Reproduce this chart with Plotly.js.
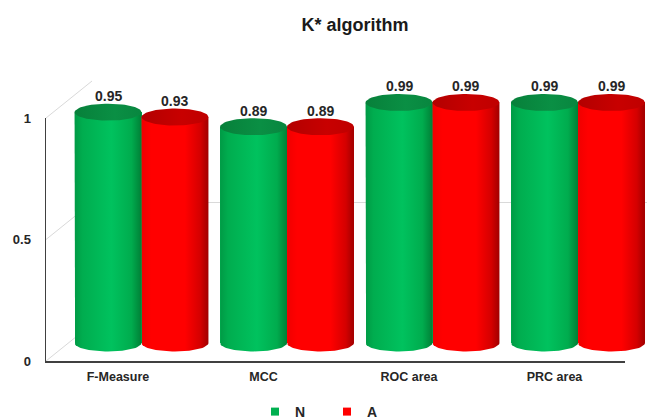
<!DOCTYPE html>
<html>
<head>
<meta charset="utf-8">
<script src="https://cdn.plot.ly/plotly-3.0.1.min.js"></script>
<style>html,body{margin:0;padding:0;background:#fff;}#chart{width:647px;height:420px;}</style>
</head>
<body>
<div id="chart"></div>
<script>
// ---- data ----
const categories = ['F-Measure', 'MCC', 'ROC area', 'PRC area'];
const seriesNames = ['N', 'A'];
const valuesN = [0.95, 0.89, 0.99, 0.99];
const valuesA = [0.93, 0.89, 0.99, 0.99];
const yTickVals = [0, 0.5, 1];
const yTickText = ['0', '0.5', '1'];

// ---- styling ----
const W = 647, H = 420;
const FONT = 'Liberation Sans, Arial, sans-serif';
const TXT = '#262626';
const barW = 0.46;          // width of one cylinder in category units
const ry = 0.035;           // ellipse half-height in value units
const baseColors = ['#00b050', '#ff0000'];
const bodyScales = [
  [[0, '#009a45'], [0.12, '#00ad4f'], [0.55, '#00c25e'], [0.85, '#00ac4e'], [1, '#007f36']],
  [[0, '#f00000'], [0.15, '#ff0000'], [0.65, '#ff0000'], [0.88, '#d40000'], [1, '#a00000']]
];
const topScales = [
  [[0, '#07803a'], [0.6, '#0a8f44'], [1, '#08863f']],
  [[0, '#b30000'], [0.6, '#c80000'], [1, '#bf0000']]
];

const px = v => v / W, py = v => 1 - v / H;

const seriesVals = [valuesN, valuesA];
const idx = categories.map((c, i) => i);
const traces = [];
const annotations = [];

// anchor traces so the wall grid and the front axes are drawn
traces.push({type: 'scatter', mode: 'none', x: [0.5], y: [0.5], xaxis: 'x', yaxis: 'y',
             showlegend: false, hoverinfo: 'skip'});
traces.push({type: 'scatter', mode: 'none', x: [0], y: [0], xaxis: 'x2', yaxis: 'y2',
             showlegend: false, hoverinfo: 'skip'});

// plain bars (data carrier, hidden under the cylinder shading)
seriesVals.forEach((vals, s) => {
  traces.push({
    type: 'bar', x: idx, y: vals, name: seriesNames[s],
    xaxis: 'x3', yaxis: 'y3',
    width: barW, offset: s === 0 ? -barW : 0,
    marker: {color: baseColors[s]}, showlegend: false, hoverinfo: 'skip'
  });
});

// cylinders built from the same values
const NSEG = 36;
seriesVals.forEach((vals, s) => {
  vals.forEach((v, i) => {
    const hw = barW / 2;
    const xc = i + (s === 0 ? -hw : hw);
    const bx = [xc - hw], by = [v];
    for (let k = 0; k <= NSEG; k++) {
      const t = Math.PI * k / NSEG;
      bx.push(xc - hw * Math.cos(t)); by.push(-ry * Math.sin(t));
    }
    bx.push(xc + hw); by.push(v);
    bx.push(xc - hw); by.push(v);
    traces.push({
      type: 'scatter', mode: 'lines', x: bx, y: by, xaxis: 'x3', yaxis: 'y3',
      fill: 'toself', line: {width: 0, color: baseColors[s]},
      fillgradient: {type: 'horizontal', colorscale: bodyScales[s]},
      showlegend: false, hoverinfo: 'skip'
    });
    const tx = [], ty = [];
    for (let k = 0; k <= 2 * NSEG; k++) {
      const t = Math.PI * k / NSEG;
      tx.push(xc + hw * Math.cos(t)); ty.push(v + ry * Math.sin(t));
    }
    traces.push({
      type: 'scatter', mode: 'lines', x: tx, y: ty, xaxis: 'x3', yaxis: 'y3',
      fill: 'toself', line: {width: 0, color: baseColors[s]},
      fillgradient: {type: 'horizontal', colorscale: topScales[s]},
      showlegend: false, hoverinfo: 'skip'
    });
    annotations.push({
      x: xc, y: v, xref: 'x3', yref: 'y3', yshift: 16,
      text: v.toFixed(2), showarrow: false,
      font: {family: FONT, size: 14, color: TXT, weight: 'bold'}
    });
  });
});

// legend entries
seriesNames.forEach((n, s) => {
  traces.push({
    type: 'scatter', mode: 'markers', x: [null], y: [null], name: n,
    xaxis: 'x3', yaxis: 'y3',
    marker: {symbol: 'square', size: 8, color: baseColors[s]}, hoverinfo: 'skip'
  });
});

// perspective side-wall lines (decoration)
const wallLine = {color: '#d9d9d9', width: 1};
const shapes = [[118, 81], [239.5, 202.5], [361, 324]].map(([y0, y1]) => ({
  type: 'line', xref: 'paper', yref: 'paper', layer: 'below',
  x0: px(46), y0: py(y0), x1: px(92), y1: py(y1), line: wallLine
}));

const layout = {
  width: W, height: H,
  margin: {l: 0, r: 0, t: 0, b: 0, autoexpand: false},
  paper_bgcolor: '#fff', plot_bgcolor: 'rgba(0,0,0,0)',
  showlegend: true,
  title: {
    text: 'K* algorithm', x: px(355), xanchor: 'center', xref: 'paper',
    y: py(25), yanchor: 'middle', yref: 'paper',
    font: {family: FONT, size: 18, color: '#1a1a1a', weight: 'bold'}
  },
  // back wall grid
  xaxis: {domain: [px(92), 1], range: [0, 1], showgrid: false, zeroline: false,
          showticklabels: false, showline: false, anchor: 'y', fixedrange: true},
  yaxis: {domain: [py(324) - 0.001, py(81) + 0.001], range: [-0.004, 1.004],
          tickmode: 'array', tickvals: yTickVals, ticks: '',
          showgrid: true, gridcolor: '#d9d9d9', gridwidth: 1, zeroline: false,
          showticklabels: false, showline: false, anchor: 'x', fixedrange: true},
  // front axes
  xaxis2: {domain: [px(46), px(625)], range: [(46 - 118) / 145.5, (625 - 118) / 145.5],
           tickmode: 'array', tickvals: idx, ticktext: categories, ticks: '',
           showgrid: false, zeroline: false, showline: true, linecolor: '#404040', linewidth: 1.5,
           ticklabelstandoff: 3,
           tickfont: {family: FONT, size: 12.5, color: TXT, weight: 'bold'},
           anchor: 'y2', fixedrange: true, automargin: false},
  yaxis2: {domain: [py(361), py(118)], range: [0, 1], tickmode: 'array',
           tickvals: yTickVals, ticktext: yTickText, ticks: '',
           showgrid: false, zeroline: false, showline: true, linecolor: '#404040', linewidth: 1.5,
           ticklabelstandoff: 11,
           tickfont: {family: FONT, size: 13, color: TXT, weight: 'bold'},
           anchor: 'x2', fixedrange: true, automargin: false},
  // bars plane
  xaxis3: {domain: [0, 1], range: [(0 - 141.5) / 145.5, (647 - 141.5) / 145.5],
           showgrid: false, zeroline: false, showticklabels: false, showline: false,
           anchor: 'y3', fixedrange: true},
  yaxis3: {domain: [py(367.3), py(63.55)], range: [-0.1, 1.15],
           showgrid: false, zeroline: false, showticklabels: false, showline: false,
           anchor: 'x3', fixedrange: true},
  bargap: 0, barmode: 'overlay',
  legend: {orientation: 'h', x: px(255), xanchor: 'left', y: py(412), yanchor: 'middle',
           entrywidth: 27, entrywidthmode: 'pixels', itemclick: false, itemdoubleclick: false,
           font: {family: FONT, size: 14, color: TXT, weight: 'bold'}, bgcolor: 'rgba(0,0,0,0)'},
  annotations: annotations,
  shapes: shapes
};

Plotly.newPlot('chart', traces, layout, {displayModeBar: false, staticPlot: true});
</script>
</body>
</html>
